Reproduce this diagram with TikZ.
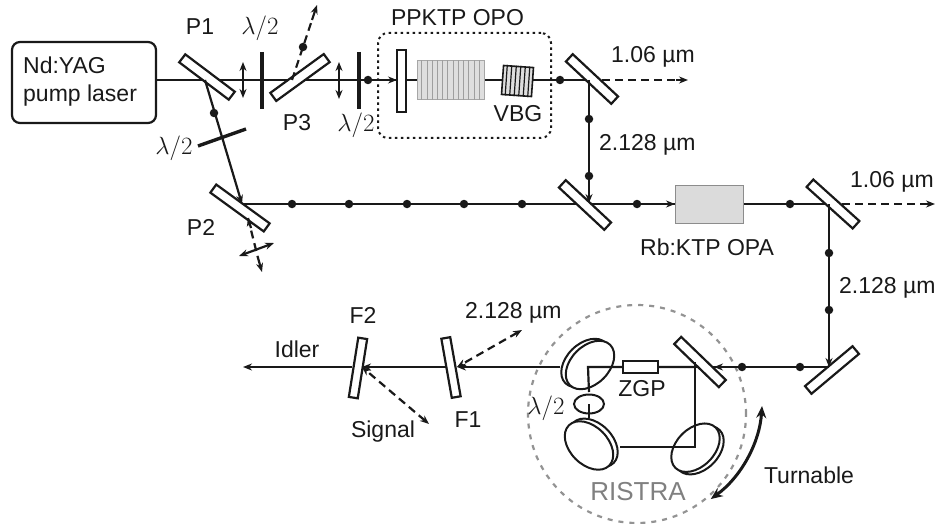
\documentclass[tikz,border=0pt]{standalone}
\usepackage{fontspec}
\setmainfont{Liberation Sans}
\usetikzlibrary{arrows.meta,calc,shapes.geometric}
\definecolor{ink}{gray}{0.1}
\newcommand{\halfwave}{$\lambda/2$}
\tikzset{
  beam/.style={draw=ink,line width=2.2pt},
  arrowbeam/.style={beam,-{Stealth[length=9pt,width=7pt]}},
  dualbeam/.style={beam,{Stealth[length=9pt,width=7pt]}-{Stealth[length=9pt,width=7pt]}},
  dashbeam/.style={beam,dash pattern=on 8pt off 5pt},
  mirrorbox/.style={draw=ink,fill=white,line width=2.2pt,minimum width=62pt,minimum height=10pt,inner sep=0pt},
  plateline/.style={draw=ink,line width=3.4pt},
  dotn/.style={circle,fill=ink,inner sep=0pt,minimum size=8.5pt},
  lbl/.style={anchor=base,inner sep=0pt,text=ink,font=\fontsize{23}{26}\selectfont},
  lblw/.style={anchor=base west,inner sep=0pt,text=ink,font=\fontsize{23}{26}\selectfont},
  wave/.style={anchor=base,inner sep=0pt,text=ink,font=\fontsize{23}{26}\selectfont},
  disk/.style={ellipse,draw=ink,fill=white,line width=2pt,minimum width=57pt,minimum height=38pt,inner sep=0pt},
}
\begin{document}
\begin{tikzpicture}[x=1pt,y=-1pt]
\useasboundingbox (0,0) rectangle (940,524);
% beam points
\coordinate (a0) at (156,80);
\coordinate (p1h) at (205,80);
\coordinate (p3h) at (292,80);
\coordinate (p3t) at (317,5);
\coordinate (hit1) at (589,80);
\coordinate (out1) at (688,80);
\coordinate (hit2) at (589,204);
\coordinate (p2h) at (242,204);
\coordinate (p2t) at (262,272);
\coordinate (p2u) at (248,218);
\coordinate (x1) at (239,256);
\coordinate (x2) at (274,243);
\coordinate (hit3) at (829,204);
\coordinate (out3) at (935,204);
\coordinate (hit4) at (829,367);
\coordinate (hit5) at (695,367);
\coordinate (c1) at (588,367);
\coordinate (c2) at (695,447);
\coordinate (left1) at (560,367);
\coordinate (ll) at (620,447);
\coordinate (wp) at (589,404);
\coordinate (llt) at (589,418);
\coordinate (fa) at (457,367);
\coordinate (fb) at (446,367);
\coordinate (fc) at (362,367);
\coordinate (fd) at (352,367);
\coordinate (idl) at (243,367);
\coordinate (sig) at (429,424);
\coordinate (dep) at (522,330);
\coordinate (t1) at (762,406);

% ring
\node[circle,draw=gray!85,dash pattern=on 5pt off 6pt,line width=2.2pt,minimum size=218pt,inner sep=0pt] (ring) at (637,414) {};
\draw[line width=3pt,draw=ink,{Stealth[length=12pt,width=10pt]}-{Stealth[length=12pt,width=10pt]}] (t1) arc[start angle=3.7,end angle=54,radius=125];

% laser
\node[draw=ink,line width=2.2pt,rounded corners=8pt,minimum width=144pt,minimum height=81pt,inner sep=0pt] (laser) at (84,82.5) {};

% beams behind the elements
\draw[beam] (laser.east|-a0) -- (p3h) -- (hit1);
\draw[dashbeam] (hit1) -- (676,80);
\draw[arrowbeam] (676,80) -- (out1);
\draw[beam] (p2h) -- (hit2) -- (hit3);
\draw[dashbeam] (hit3) -- (923,204);
\draw[arrowbeam] (923,204) -- (out3);

% dotted OPO box
\node[draw=ink,dash pattern=on 2.5pt off 3.5pt,line width=2pt,rounded corners=10pt,minimum width=173pt,minimum height=105pt,inner sep=0pt] (opo) at (464.5,85.5) {};

% arrows into elements
\draw[arrowbeam] (368,80) -- (397,80);
\node[draw=black!35,fill=black!13,line width=1pt,minimum width=67pt,minimum height=39pt,inner sep=0pt] (ppktp) at (450.5,80.5) {};
\foreach \i in {1,...,12}{
  \draw[black!38,line width=.8pt] ($(ppktp.north west)!\i/13!(ppktp.north east)$) -- ($(ppktp.south west)!\i/13!(ppktp.south east)$);
}
\node[draw=ink,fill=white,line width=2.2pt,minimum width=9pt,minimum height=62pt,inner sep=0pt] (ocm) at (401.5,81) {};
\node[draw=ink,fill=black!13,line width=1.6pt,minimum width=30pt,minimum height=29pt,inner sep=0pt,rotate=-4] (vbg) at (517.5,81) {};
\foreach \i in {1,...,6}{
  \draw[ink,line width=1.2pt] ($(vbg.north west)!\i/7!(vbg.north east)$) -- ($(vbg.south west)!\i/7!(vbg.south east)$);
}

% rubidium crystal
\draw[arrowbeam] (637,204) -- (675,204);
\node[draw=black!45,fill=black!14,line width=1pt,minimum width=68pt,minimum height=38pt,inner sep=0pt] (opa) at (709,204) {};

% mirrors
\node[mirrorbox,rotate=-37] (p1) at (207,77) {};
\node[mirrorbox,rotate=36,minimum width=66pt] (p3) at (300,77.5) {};
\node[mirrorbox,rotate=-36,minimum width=66pt] (p2) at (240,208) {};
\node[mirrorbox,rotate=-43] (m1) at (592,79) {};
\node[mirrorbox,rotate=-43] (m2) at (585,205) {};
\node[mirrorbox,rotate=-42] (m3) at (833,204) {};
\node[mirrorbox,rotate=40] (m4) at (832,370) {};
\node[mirrorbox,rotate=-80,minimum width=60pt,minimum height=9pt] (f1) at (451,367.5) {};
\node[mirrorbox,rotate=81,minimum width=60pt,minimum height=9pt] (f2) at (358,368) {};

% plates
\draw[plateline] (262,52) -- (262,109);
\draw[plateline] (359,52) -- (359,109);
\draw[plateline] (198,146) -- (246,129);
\draw[dualbeam] (243,62) -- (243,98);
\draw[dualbeam] (339,62) -- (339,99);

% reflected beams
\draw[arrowbeam] (p1h) -- (p2h);
\draw[dashbeam] (p3h) -- (312,20);
\draw[arrowbeam] (312,20) -- (p3t);
\draw[arrowbeam] (hit1) -- (589,203);
\draw[arrowbeam] (hit3) -- (829,367);
\draw[dashbeam] (p2u) -- (258,258);
\draw[dashbeam,{Stealth[length=8pt,width=7pt]}-] (p2u) -- ($(p2u)+(3,10)$);
\draw[arrowbeam] (258,258) -- (p2t);
\draw[dualbeam] (x1) -- (x2);

% lower path
\draw[beam] (hit4) -- (hit5);
\draw[arrowbeam] (hit4) -- (714,367);

% disks
\node[disk,rotate=45] at (585.5,363) {};
\node[disk,rotate=45] (d1) at (590,365) {};
\node[disk,rotate=-45] at (593.5,442.8) {};
\node[disk,rotate=-45] (d2) at (589,445.5) {};
\node[disk,rotate=45] at (699.5,450.2) {};
\node[disk,rotate=45] (d3) at (695.5,447.7) {};

\draw[beam] (hit5) -- (c2) -- (ll);
\draw[beam] (hit5) -- (c1) -- (589,392);
\node[ellipse,draw=ink,fill=white,line width=2pt,minimum width=30pt,minimum height=19pt,inner sep=0pt] (wpe) at (wp) {};
\draw[beam] (wp) -- (llt);
\node[draw=ink,fill=white,line width=2.2pt,minimum width=35pt,minimum height=12pt,inner sep=0pt] (zgp) at (640.5,367) {};
\node[mirrorbox,rotate=-44] (m5) at (700,362) {};
\draw[beam] (m5.center-|hit5) -- (c2);

\draw[arrowbeam] (left1) -- (fa);
\draw[arrowbeam] (fb) -- (fc);
\draw[arrowbeam] (fd) -- (idl);
\draw[dashbeam,{Stealth[length=9pt,width=7pt]}-{Stealth[length=9pt,width=7pt]}] (dep) -- (fa);
\draw[dashbeam,{Stealth[length=9pt,width=7pt]}-{Stealth[length=9pt,width=7pt]}] (sig) -- (fc);

% dots
\foreach \n/\p in {d1/{214,113},d2/{303,47},d3/{368,80},d4/{560,80},d5/{589,119},d6/{589,176},d7/{292,204},d8/{349,204},d9/{407,204},d10/{464,204},d11/{522,204},d12/{637,204},d13/{790,204},d14/{829,253},d15/{829,310},d16/{800,367},d17/{742,367}}
  \node[dotn] (dot\n) at (\p) {};

% labels
\node[lblw] (t1a) at (23,74) {Nd:YAG};
\node[lblw] (t1b) at (23,102) {pump laser};
\node[lbl] (tp1) at (200,35) {P1};
\node[wave] (th1) at (260,35) {\halfwave};
\node[lbl] (tp3) at (297,131) {P3};
\node[wave] (th2) at (174,155) {\halfwave};
\node[lbl] (tp2) at (201,235) {P2};
\node[wave] (th3) at (356,132) {\halfwave};
\node[lbl] (tpp) at (457.5,26) {PPKTP OPO};
\node[lbl] (tvb) at (518,122) {VBG};
\node[lblw] (tw1) at (611,63) {1.06 µm};
\node[lblw] (tw2) at (599,150) {2.128 µm};
\node[lblw] (tr) at (640,255) {Rb:KTP OPA};
\node[lblw] (tw3) at (850,188) {1.06 µm};
\node[lblw] (tw4) at (839,293) {2.128 µm};
\node[lbl] (tz) at (642,396) {ZGP};
\node[wave] (th4) at (546,414) {\halfwave};
\node[lbl,text=black!50,font=\fontsize{26}{30}\selectfont] (tris) at (638,500) {RISTRA};
\node[lbl] (ttu) at (809,483) {Turnable};
\node[lbl] (tf2) at (363,323) {F2};
\node[lbl] (tid) at (297,357) {Idler};
\node[lbl] (tf1) at (468,427) {F1};
\node[lbl] (tsg) at (383,437) {Signal};
\node[lblw] (tw5) at (465,318) {2.128 µm};
\end{tikzpicture}
\end{document}
